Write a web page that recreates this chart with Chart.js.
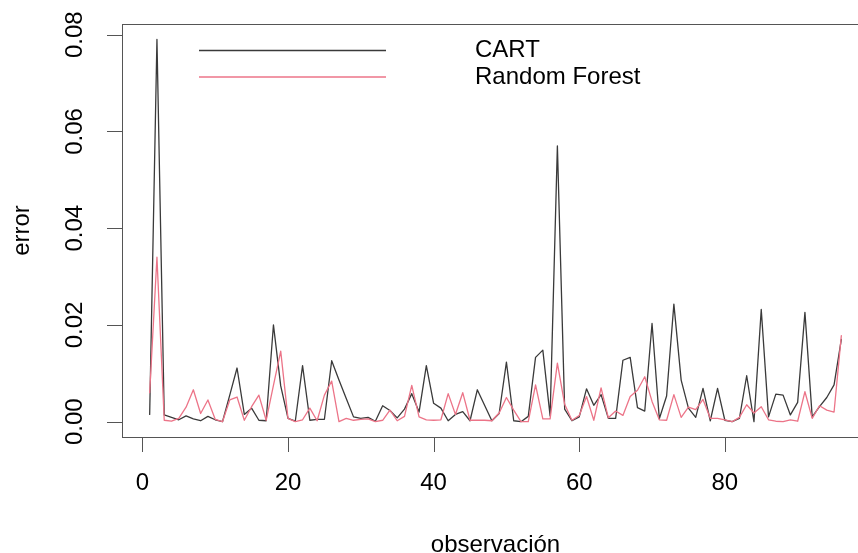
<!DOCTYPE html>
<html>
<head>
<meta charset="utf-8">
<script src="https://cdn.jsdelivr.net/npm/chart.js@4.4.1/dist/chart.umd.min.js"></script>
<style>
html, body { margin: 0; padding: 0; overflow: hidden; background: #fff; width: 858px; height: 553px; }
canvas { display: block; }
</style>
</head>
<body>
<canvas id="chart" width="900" height="553"></canvas>
<script>
// observation index
const observacion = [1, 2, 3, 4, 5, 6, 7, 8, 9, 10, 11, 12, 13, 14, 15, 16, 17, 18, 19, 20,
    21, 22, 23, 24, 25, 26, 27, 28, 29, 30, 31, 32, 33, 34, 35, 36, 37, 38, 39, 40,
    41, 42, 43, 44, 45, 46, 47, 48, 49, 50, 51, 52, 53, 54, 55, 56, 57, 58, 59, 60,
    61, 62, 63, 64, 65, 66, 67, 68, 69, 70, 71, 72, 73, 74, 75, 76, 77, 78, 79, 80,
    81, 82, 83, 84, 85, 86, 87, 88, 89, 90, 91, 92, 93, 94, 95, 96];

const cartError = [0.0015, 0.0790, 0.0014, 0.0009, 0.0004, 0.0012, 0.0006, 0.0002, 0.0011, 0.0004,
    0.0000, 0.0055, 0.0111, 0.0015, 0.0028, 0.0003, 0.0002, 0.0200, 0.0074, 0.0007,
    0.0001, 0.0116, 0.0003, 0.0005, 0.0005, 0.0126, 0.0086, 0.0048, 0.0010, 0.0007,
    0.0009, 0.0001, 0.0033, 0.0023, 0.0008, 0.0026, 0.0058, 0.0020, 0.0116, 0.0038,
    0.0028, 0.0002, 0.0015, 0.0021, 0.0002, 0.0066, 0.0034, 0.0002, 0.0017, 0.0123,
    0.0002, 0.0000, 0.0011, 0.0133, 0.0148, 0.0012, 0.0570, 0.0026, 0.0002, 0.0010,
    0.0068, 0.0034, 0.0056, 0.0007, 0.0007, 0.0127, 0.0133, 0.0029, 0.0022, 0.0203,
    0.0006, 0.0053, 0.0243, 0.0086, 0.0028, 0.0009, 0.0069, 0.0002, 0.0069, 0.0003,
    0.0000, 0.0007, 0.0095, 0.0000, 0.0232, 0.0010, 0.0057, 0.0055, 0.0014, 0.0040,
    0.0226, 0.0010, 0.0031, 0.0050, 0.0076, 0.0170];

const rfError = [0.0060, 0.0340, 0.0003, 0.0001, 0.0007, 0.0030, 0.0066, 0.0017, 0.0045, 0.0005,
    0.0000, 0.0045, 0.0051, 0.0003, 0.0031, 0.0055, 0.0003, 0.0075, 0.0146, 0.0007,
    0.0000, 0.0004, 0.0028, 0.0002, 0.0055, 0.0084, 0.0000, 0.0007, 0.0003, 0.0005,
    0.0006, 0.0000, 0.0003, 0.0024, 0.0002, 0.0011, 0.0075, 0.0010, 0.0004, 0.0003,
    0.0004, 0.0058, 0.0015, 0.0060, 0.0003, 0.0003, 0.0003, 0.0002, 0.0018, 0.0050,
    0.0024, 0.0000, 0.0000, 0.0076, 0.0006, 0.0006, 0.0121, 0.0036, 0.0003, 0.0013,
    0.0052, 0.0003, 0.0070, 0.0008, 0.0022, 0.0013, 0.0052, 0.0065, 0.0093, 0.0042,
    0.0004, 0.0003, 0.0056, 0.0009, 0.0030, 0.0025, 0.0046, 0.0007, 0.0007, 0.0004,
    0.0000, 0.0009, 0.0035, 0.0018, 0.0031, 0.0004, 0.0001, 0.0000, 0.0004, 0.0001,
    0.0062, 0.0007, 0.0033, 0.0024, 0.0020, 0.0178];

const seriesNames = ["CART", "Random Forest"];
const xTicks = [0, 20, 40, 60, 80];
const yTicks = [0, 0.02, 0.04, 0.06, 0.08];
const yTickLabels = ["0.00", "0.02", "0.04", "0.06", "0.08"];

const FONT = '24px "Liberation Sans", Arial, sans-serif';
const CART_COLOR = "#3a3a3a";
const RF_COLOR = "#EC7488";

function toPoints(values) {
    return observacion.map((x, i) => ({ x: x, y: values[i] }));
}

// base-R look: box, outside ticks, rotated y labels, plain legend
const rAxes = {
    id: "rAxes",
    afterDraw(chart) {
        const ctx = chart.ctx;
        const a = chart.chartArea;
        const xs = chart.scales.x;
        const ys = chart.scales.y;
        ctx.save();
        ctx.strokeStyle = "#555";
        ctx.lineWidth = 1;
        ctx.strokeRect(Math.round(a.left) + 0.5, Math.round(a.top) + 0.5,
            Math.round(a.right - a.left), Math.round(a.bottom - a.top));

        ctx.fillStyle = "#000";
        ctx.font = FONT;

        // x axis
        ctx.beginPath();
        xTicks.forEach(v => {
            const px = Math.round(xs.getPixelForValue(v)) + 0.5;
            ctx.moveTo(px, a.bottom);
            ctx.lineTo(px, a.bottom + 15);
        });
        ctx.stroke();
        ctx.textAlign = "center";
        ctx.textBaseline = "middle";
        xTicks.forEach(v => {
            ctx.fillText(String(v), xs.getPixelForValue(v), 483);
        });
        ctx.fillText("observación", (a.left + a.right) / 2, 545);

        // y axis
        ctx.beginPath();
        yTicks.forEach(v => {
            const py = Math.round(ys.getPixelForValue(v)) + 0.5;
            ctx.moveTo(a.left, py);
            ctx.lineTo(a.left - 15, py);
        });
        ctx.stroke();
        yTicks.forEach((v, i) => {
            ctx.save();
            ctx.translate(75, ys.getPixelForValue(v));
            ctx.rotate(-Math.PI / 2);
            ctx.fillText(yTickLabels[i], 0, 0);
            ctx.restore();
        });
        ctx.save();
        ctx.translate(22, (a.top + a.bottom) / 2);
        ctx.rotate(-Math.PI / 2);
        ctx.fillText("error", 0, 0);
        ctx.restore();

        // legend
        const rows = [[seriesNames[0], CART_COLOR, 50.5], [seriesNames[1], RF_COLOR, 77]];
        rows.forEach(([name, color, y]) => {
            ctx.strokeStyle = color;
            ctx.lineWidth = 1.3;
            ctx.beginPath();
            ctx.moveTo(199, y);
            ctx.lineTo(386, y);
            ctx.stroke();
            ctx.textAlign = "left";
            ctx.fillText(name, 475, y);
        });
        ctx.restore();
    }
};

new Chart(document.getElementById("chart"), {
    type: "line",
    data: {
        datasets: [
            {
                label: seriesNames[0],
                data: toPoints(cartError),
                borderColor: CART_COLOR,
                borderWidth: 1.3,
                pointRadius: 0,
                tension: 0,
                order: 1
            },
            {
                label: seriesNames[1],
                data: toPoints(rfError),
                borderColor: RF_COLOR,
                borderWidth: 1.3,
                pointRadius: 0,
                tension: 0,
                order: 0
            }
        ]
    },
    options: {
        responsive: false,
        animation: false,
        events: [],
        layout: { padding: { left: 122, top: 24, right: 31, bottom: 116 } },
        elements: { line: { borderJoinStyle: "round", borderCapStyle: "round" } },
        plugins: { legend: { display: false }, tooltip: { enabled: false } },
        scales: {
            x: { type: "linear", min: -2.8, max: 99.8, display: false },
            y: { type: "linear", min: -0.00316, max: 0.0822, display: false }
        }
    },
    plugins: [rAxes]
});
</script>
</body>
</html>
